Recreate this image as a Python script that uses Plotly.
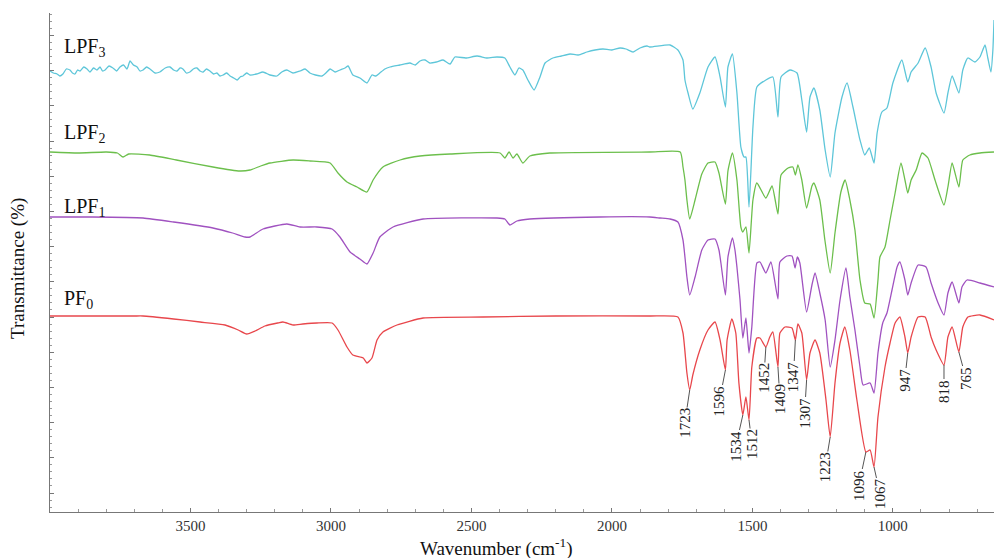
import numpy as np
import plotly.graph_objects as go

# ---------------- data (wavenumber cm-1, transmittance a.u.) ----------------
pf0_wn = [4000, 3900, 3700, 3669, 3560, 3466, 3377, 3330, 3300, 3270, 3235, 3190, 3171, 3135, 3100, 3050,
          2996, 2975, 2943, 2922, 2897, 2885, 2872, 2854, 2836, 2815, 2765, 2672, 2459, 2200, 1865,
          1765, 1747, 1733, 1723, 1712, 1687, 1658, 1633, 1615, 1596, 1590, 1573, 1559, 1548, 1534,
          1523, 1512, 1502, 1484, 1473, 1452, 1438, 1427, 1409, 1402, 1384, 1359, 1347, 1338, 1324,
          1307, 1295, 1277, 1260, 1238, 1223, 1206, 1188, 1171, 1153, 1128, 1096, 1081, 1067, 1053,
          1028, 1010, 992, 975, 957, 947, 935, 910, 885, 864, 846, 818, 804, 789, 765, 751, 733, 690, 640]
pf0_t = [39.2, 39.2, 39.2, 39.2, 38.6, 38.0, 37.4, 36.4, 35.6, 36.2, 37.2, 37.8, 38.0, 37.4, 37.6, 37.8,
         37.8, 36.4, 33.0, 31.4, 31.0, 30.8, 29.8, 30.8, 34.4, 36.0, 37.4, 38.8, 39.0, 39.2, 39.2,
         39.0, 35.8, 27.8, 24.4, 27.4, 32.4, 36.4, 38.0, 34.4, 28.4, 34.4, 38.6, 35.8, 25.8, 19.4,
         23.0, 18.4, 29.0, 34.8, 34.8, 33.0, 35.0, 36.0, 29.0, 35.8, 37.0, 36.8, 34.4, 37.6, 35.8,
         26.4, 31.8, 34.4, 31.8, 22.4, 15.0, 25.8, 33.8, 37.0, 32.4, 22.4, 12.0, 12.4, 9.0, 19.0,
         29.0, 33.8, 37.8, 39.0, 35.0, 31.8, 35.0, 39.0, 39.0, 35.0, 32.4, 29.4, 35.0, 37.0, 32.0,
         37.0, 39.0, 39.4, 38.4]

lpf1_wn = [4000, 3850, 3669, 3560, 3420, 3350, 3306, 3288, 3242, 3157, 3110, 3050, 2996, 2968, 2932,
           2897, 2872, 2850, 2826, 2779, 2672, 2409, 2381, 2363, 2338, 2292, 2043, 1865,
           1829, 1793, 1765, 1747, 1740, 1733, 1723, 1704, 1680, 1658, 1633, 1619, 1612, 1596, 1587,
           1571, 1562, 1555, 1544, 1534, 1523, 1512, 1502, 1484, 1473, 1452, 1434, 1409, 1402, 1377,
           1359, 1348, 1340, 1331, 1307, 1288, 1277, 1260, 1241, 1223, 1206, 1188, 1167, 1153, 1135,
           1117, 1106, 1081, 1067, 1053, 1036, 1021, 1003, 985, 975, 957, 947, 935, 910, 882, 864,
           839, 818, 804, 789, 765, 754, 736, 690, 640]
lpf1_t = [59.0, 59.0, 58.8, 58.0, 56.8, 55.8, 55.0, 55.0, 56.6, 57.6, 57.0, 57.0, 56.6, 55.0, 52.0,
          50.6, 49.6, 51.8, 55.0, 57.0, 58.6, 58.8, 58.6, 57.4, 58.2, 58.6, 59.0, 59.0,
          58.8, 58.6, 58.0, 54.4, 51.0, 47.0, 43.4, 47.0, 52.4, 54.4, 54.6, 52.4, 49.8, 43.4, 51.0,
          54.8, 52.4, 49.0, 42.4, 34.8, 38.8, 31.8, 37.0, 49.8, 50.0, 47.8, 50.0, 42.6, 50.0, 51.2,
          51.2, 48.8, 51.0, 49.8, 40.0, 45.4, 47.8, 43.8, 38.4, 29.0, 34.4, 42.4, 48.8, 43.0, 36.4,
          29.0, 25.4, 25.8, 23.8, 31.8, 37.8, 39.8, 44.4, 49.0, 50.0, 46.4, 43.4, 45.8, 49.4, 49.0, 45.8,
          41.8, 39.4, 43.8, 46.0, 41.8, 45.0, 46.4, 45.8, 45.0]

lpf2_wn = [4000, 3900, 3800, 3760, 3740, 3720, 3645, 3550, 3420, 3325, 3288, 3250, 3217, 3135, 3075,
           3003, 2975, 2943, 2907, 2872, 2850, 2815, 2754, 2683, 2576, 2398, 2381, 2366, 2352, 2338,
           2317, 2292, 2221, 1865,
           1757, 1747, 1740, 1733, 1723, 1704, 1680, 1658, 1633, 1619, 1596, 1587, 1571, 1555, 1541,
           1534, 1523, 1512, 1498, 1484, 1452, 1430, 1409, 1398, 1373, 1356, 1347, 1338, 1324, 1307,
           1288, 1281, 1260, 1242, 1223, 1206, 1185, 1170, 1153, 1135, 1117, 1100, 1081, 1067, 1053,
           1046, 1028, 1010, 992, 971, 957, 947, 935, 917, 896, 875, 850, 818, 804, 789, 765, 751,
           726, 690, 640]
lpf2_t = [72.0, 71.8, 72.0, 71.8, 71.0, 71.6, 71.4, 70.4, 69.0, 68.2, 68.4, 69.2, 69.8, 70.4, 70.2,
          69.8, 67.8, 66.0, 65.0, 64.0, 66.4, 69.0, 70.4, 71.2, 71.6, 71.8, 70.8, 72.0, 70.8, 71.6,
          69.8, 71.2, 71.8, 72.0,
          72.0, 69.0, 66.4, 62.4, 58.6, 62.4, 67.6, 69.8, 70.0, 67.8, 61.6, 68.2, 71.8, 66.4, 57.0,
          56.0, 57.0, 51.8, 62.4, 65.8, 62.8, 65.2, 59.6, 67.4, 68.8, 69.0, 67.4, 69.4, 66.4, 60.8,
          65.2, 65.8, 62.4, 54.4, 47.8, 55.8, 64.0, 66.4, 62.4, 56.4, 46.4, 41.8, 41.6, 38.8, 46.4,
          51.0, 53.0, 58.4, 63.8, 69.8, 66.4, 63.8, 66.4, 68.4, 71.8, 70.8, 66.4, 61.4, 65.0, 69.8,
          65.0, 70.4, 71.4, 71.8, 72.0]

lpf3_wn = [4000, 3988, 3975, 3965, 3954, 3942, 3929, 3920, 3911, 3902, 3893, 3880, 3868, 3858, 3845,
           3833, 3822, 3813, 3804, 3790, 3776, 3763, 3751, 3738, 3726, 3715, 3703, 3690, 3680, 3669,
           3656, 3644, 3626, 3609, 3590, 3573, 3560, 3548, 3537, 3527, 3515, 3502, 3490, 3477, 3466,
           3455, 3443, 3431, 3418, 3406, 3395, 3384, 3371, 3359, 3346, 3334, 3323, 3313, 3300, 3288,
           3265, 3242, 3217, 3192, 3175, 3157, 3135, 3110, 3092, 3075, 3055, 3032, 3018, 3003, 2985,
           2968, 2950, 2939, 2922, 2897, 2872, 2854, 2840, 2826, 2808, 2790, 2755, 2719, 2700, 2683,
           2665, 2648, 2625, 2601, 2576, 2559, 2520, 2480, 2445, 2409, 2381, 2363, 2345, 2331, 2317,
           2299, 2277, 2256, 2238, 2210, 2180, 2149, 2120, 2089, 2060, 2032, 2000, 1971, 1950, 1925,
           1900, 1875, 1865,
           1793, 1765, 1747, 1740, 1729, 1712, 1687, 1658, 1633, 1615, 1596, 1587, 1571, 1555, 1541,
           1530, 1523, 1512, 1498, 1484, 1452, 1427, 1409, 1398, 1366, 1341, 1324, 1307, 1295, 1281,
           1260, 1241, 1223, 1206, 1181, 1163, 1142, 1117, 1100, 1084, 1067, 1056, 1039, 1021, 1000,
           968, 947, 935, 910, 885, 864, 846, 818, 804, 789, 765, 751, 733, 708, 690, 672, 662, 651,
           644, 640]
lpf3_t = [88.2, 87.8, 87.6, 87.2, 87.6, 88.6, 88.4, 87.8, 87.6, 88.4, 88.2, 89.0, 88.6, 88.0, 88.8,
          88.4, 89.0, 88.2, 88.4, 89.2, 88.8, 88.2, 89.0, 89.4, 88.6, 90.2, 89.4, 89.0, 88.2, 88.4,
          89.0, 88.6, 87.8, 88.0, 88.8, 89.0, 88.4, 88.2, 88.8, 88.6, 87.8, 88.0, 88.6, 88.8, 88.2,
          88.0, 88.6, 88.2, 87.6, 87.8, 87.2, 87.4, 87.8, 87.2, 86.8, 86.4, 87.0, 87.2, 87.8, 87.4,
          87.6, 88.0, 87.4, 87.2, 88.0, 88.4, 87.8, 88.2, 88.6, 87.8, 87.4, 87.2, 87.8, 88.6, 88.0,
          88.4, 88.8, 89.2, 87.4, 86.8, 85.8, 87.4, 87.2, 87.8, 88.6, 89.0, 89.4, 89.8, 89.4, 90.2,
          90.4, 89.8, 90.0, 90.4, 89.6, 91.0, 90.8, 91.2, 90.8, 91.0, 90.8, 89.0, 87.4, 88.8, 88.4,
          86.4, 84.4, 87.0, 89.8, 90.8, 91.2, 91.6, 91.4, 92.0, 92.4, 92.6, 92.4, 92.8, 92.6, 92.0,
          92.8, 93.2, 93.0,
          93.4, 92.4, 90.4, 86.4, 83.8, 80.6, 83.8, 89.0, 91.0, 87.0, 81.0, 89.0, 91.6, 83.8, 73.0,
          71.0, 71.0, 61.0, 77.0, 85.0, 86.4, 87.0, 79.0, 87.0, 88.4, 87.8, 82.4, 76.0, 83.0, 84.8,
          80.4, 72.4, 67.0, 75.8, 83.0, 85.8, 81.0, 74.4, 71.4, 72.8, 69.8, 75.8, 80.0, 80.8, 85.8,
          90.4, 86.0, 88.0, 89.8, 92.8, 89.0, 83.8, 79.8, 83.8, 87.2, 83.8, 88.4, 90.8, 90.0, 91.0,
          93.4, 90.8, 88.0, 92.4, 98.4]

series_names = ["PF<sub>0</sub>", "LPF<sub>1</sub>", "LPF<sub>2</sub>", "LPF<sub>3</sub>"]
series_label_y = [42.6, 61.0, 75.8, 93.0]

peak_wn = [1723, 1596, 1534, 1512, 1452, 1409, 1347, 1307, 1223, 1096, 1067, 947, 818, 765]

x_tickvals = [3500, 3000, 2500, 2000, 1500, 1000]

# ---------------- styling ----------------
colors = ["#e8474c", "#a052c0", "#6cbf4c", "#5ec6d9"]
label_dx = [-5, -6, -7, 3, -2, 2, -2, -2, -5, -7, 6, -3, 0, 7]
label_dy = [33, 31, 31, 24, 31, 32, 37, 33, 30, 33, 27, 27, 26, 26]
FONT = "Liberation Serif, Times New Roman, serif"

fig = go.Figure()
for wn, t, c in zip([pf0_wn, lpf1_wn, lpf2_wn, lpf3_wn], [pf0_t, lpf1_t, lpf2_t, lpf3_t], colors):
    fig.add_trace(go.Scatter(x=wn, y=t, mode="lines",
                             line=dict(color=c, width=1.3, shape="spline", smoothing=0.5),
                             hoverinfo="skip", showlegend=False))

annotations = []
for name, yv in zip(series_names, series_label_y):
    annotations.append(dict(x=3957, y=yv, xref="x", yref="y", text=name, showarrow=False,
                            xanchor="left", yanchor="middle",
                            font=dict(family=FONT, size=20, color="#111")))

# peak labels, attached to PF0 minima
pf0_wn_arr = np.array(pf0_wn[::-1], dtype=float)
pf0_t_arr = np.array(pf0_t[::-1], dtype=float)
for wn, dx, dy in zip(peak_wn, label_dx, label_dy):
    yv = float(np.interp(wn, pf0_wn_arr, pf0_t_arr))
    annotations.append(dict(x=wn, y=yv, xref="x", yref="y", text=str(wn), showarrow=True,
                            arrowhead=0, arrowwidth=1, arrowcolor="#555", ax=dx, ay=dy,
                            textangle=-90, borderpad=0,
                            font=dict(family=FONT, size=15, color="#222")))

annotations.append(dict(x=-0.034, y=0.489, xref="paper", yref="paper", text="Transmittance (%)",
                        showarrow=False, textangle=-90, xanchor="center", yanchor="middle",
                        font=dict(family=FONT, size=19, color="#111")))
annotations.append(dict(x=0.4735, y=-0.072, xref="paper", yref="paper",
                        text="Wavenumber (cm<sup>-1</sup>)", showarrow=False,
                        xanchor="center", yanchor="middle",
                        font=dict(family=FONT, size=19, color="#111")))

fig.update_layout(
    width=994, height=558,
    margin=dict(l=50, r=0, t=13, b=46),
    paper_bgcolor="white", plot_bgcolor="white",
    annotations=annotations,
    xaxis=dict(range=[4000, 640], showgrid=False, zeroline=False,
               showline=True, linecolor="#777", linewidth=1,
               ticks="inside", ticklen=4, tickcolor="#777", tickvals=x_tickvals,
               minor=dict(ticks="inside", ticklen=3, tickcolor="#999", dtick=100, tick0=0),
               tickfont=dict(family=FONT, size=15, color="#333")),
    yaxis=dict(range=[0, 99.8], showgrid=False, zeroline=False,
               showline=True, linecolor="#777", linewidth=1,
               ticks="inside", ticklen=4, tickcolor="#777", tick0=3.8, dtick=7.04,
               minor=dict(ticks="inside", ticklen=2, tickcolor="#999", dtick=1.408, tick0=3.8),
               showticklabels=False),
)

fig.write_html("out.html", config={"displayModeBar": False},
               post_script="document.body.style.margin='0';document.body.style.overflow='hidden';")
